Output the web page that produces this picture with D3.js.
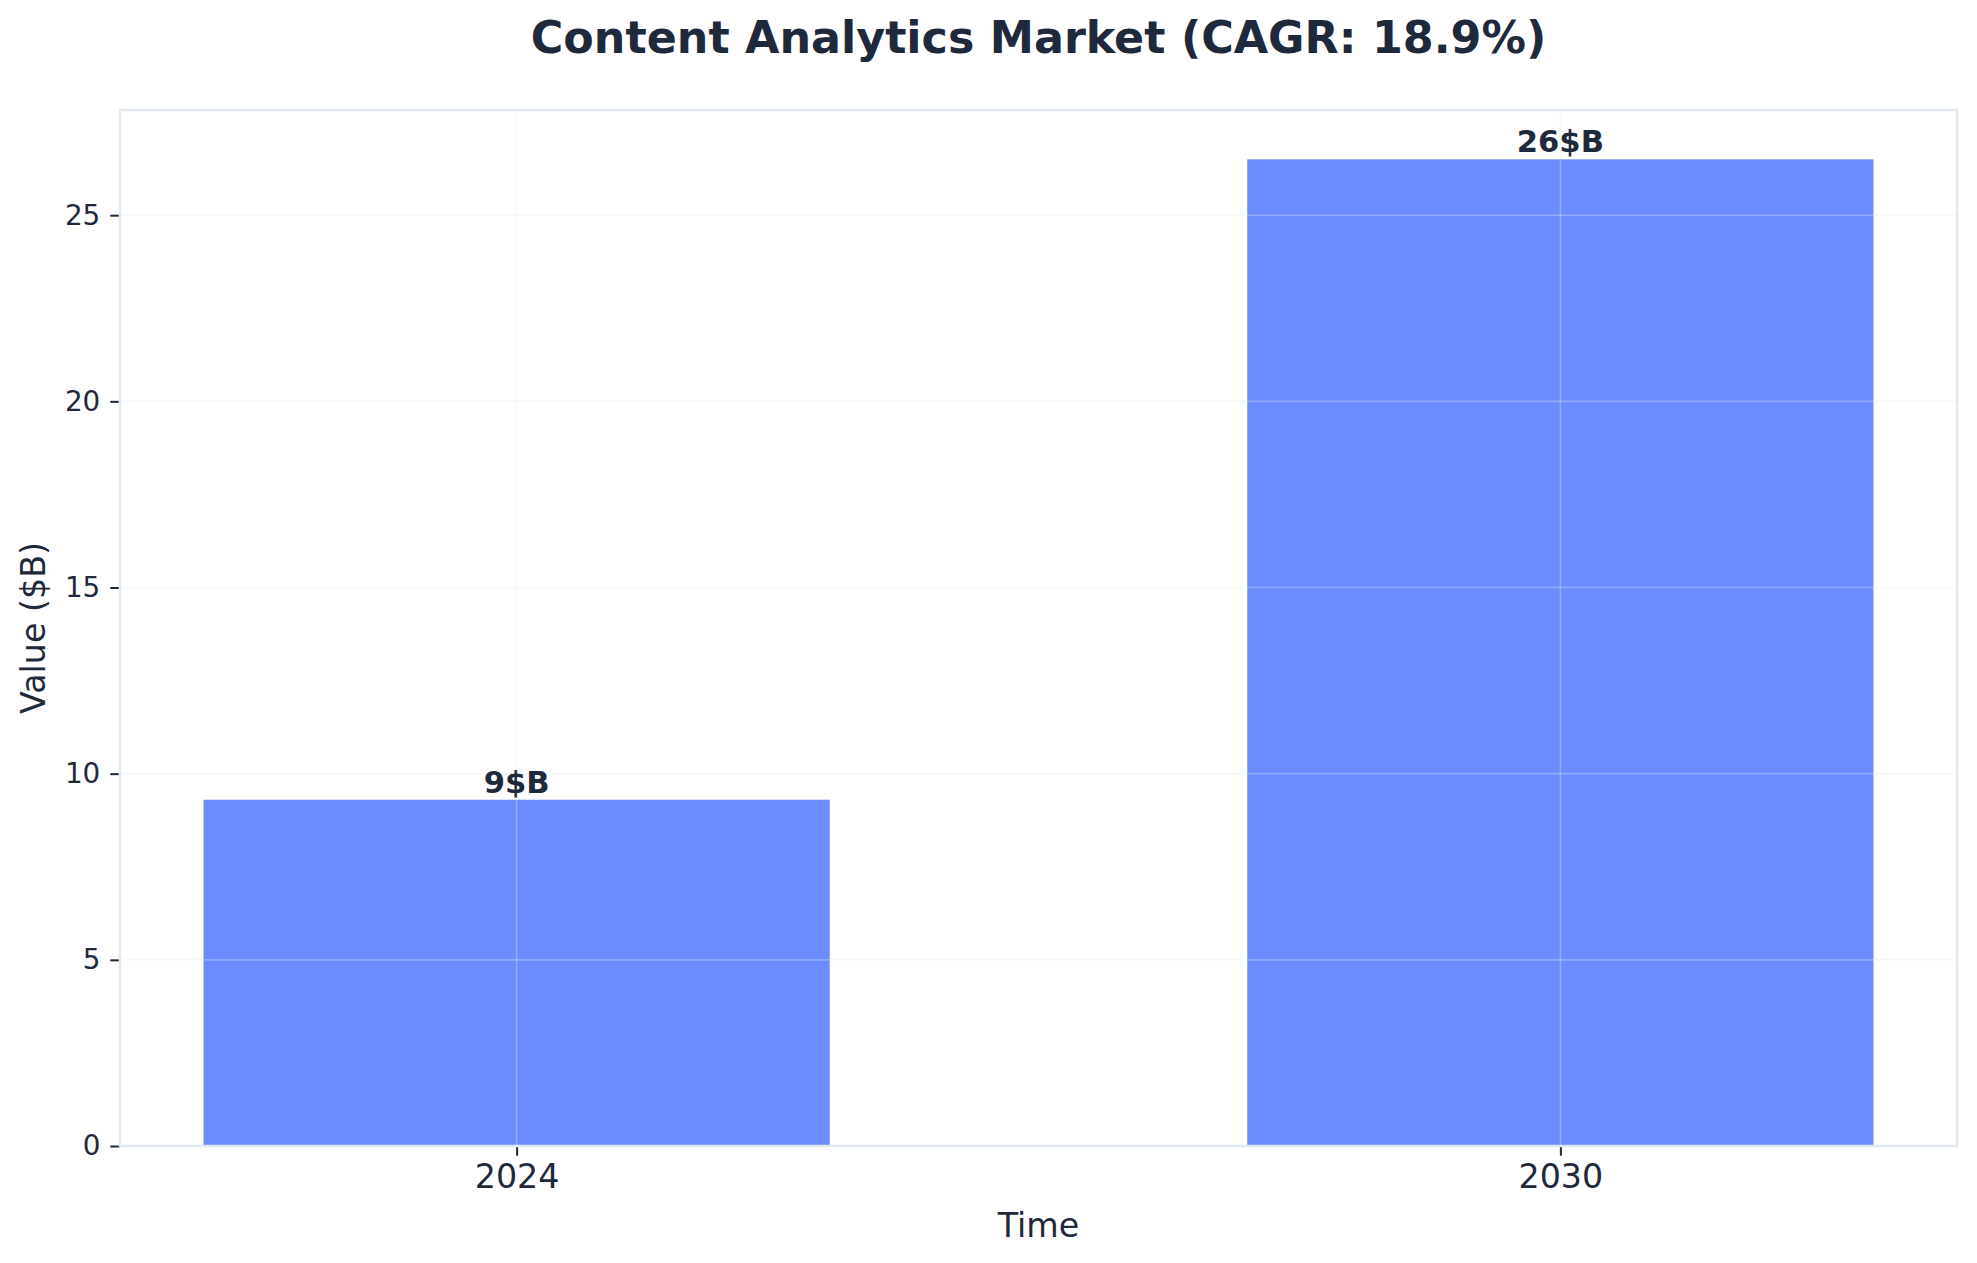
<!DOCTYPE html>
<html>
<head>
<meta charset="utf-8">
<script src="https://cdn.jsdelivr.net/npm/d3@7"></script>
<style>
  html, body { margin: 0; padding: 0; background: #ffffff; }
  svg { display: block; font-family: "DejaVu Sans", sans-serif; }
</style>
</head>
<body>
<svg id="chart" width="1977" height="1263"></svg>
<script>
// ---- data ----
const categories = ["2024", "2030"];
const values = [9.3, 26.5];
const barLabels = ["9$B", "26$B"];
const yTicks = [0, 5, 10, 15, 20, 25];
const titleText = "Content Analytics Market (CAGR: 18.9%)";
const xLabel = "Time";
const yLabel = "Value ($B)";

// ---- layout ----
const W = 1977, H = 1263;
const m = { left: 120, right: 1957, top: 110, bottom: 1146 };
const textColor = "#1e293b";
const spineColor = "#e2e8f0";
const barColor = "#6c8bff";

const svg = d3.select("#chart");

const x = d3.scaleLinear()
  .domain([-0.38, categories.length - 1 + 0.38])
  .range([m.left, m.right]);
const y = d3.scaleLinear()
  .domain([0, d3.max(values) * 1.05])
  .range([m.bottom, m.top]);

const barW = x(0.6) - x(0);

// bars
svg.append("g").selectAll("rect")
  .data(values)
  .join("rect")
  .attr("x", (d, i) => x(i) - barW / 2)
  .attr("width", barW)
  .attr("y", d => y(d))
  .attr("height", d => y(0) - y(d))
  .attr("fill", barColor);

// grid (drawn over bars)
const grid = svg.append("g")
  .attr("stroke", spineColor)
  .attr("stroke-opacity", 0.32)
  .attr("stroke-width", 1.6);
grid.selectAll("line.h")
  .data(yTicks.slice(1))
  .join("line")
  .attr("x1", m.left).attr("x2", m.right)
  .attr("y1", d => y(d)).attr("y2", d => y(d));
grid.selectAll("line.v")
  .data(categories)
  .join("line")
  .attr("x1", (d, i) => x(i)).attr("x2", (d, i) => x(i))
  .attr("y1", m.top).attr("y2", m.bottom);

// bar value labels
svg.append("g").selectAll("text")
  .data(values)
  .join("text")
  .attr("x", (d, i) => x(i))
  .attr("y", d => y(d) - 7)
  .attr("text-anchor", "middle")
  .attr("font-size", 30.6)
  .attr("font-weight", "bold")
  .attr("fill", textColor)
  .text((d, i) => barLabels[i]);

// axes
const yAxis = svg.append("g")
  .attr("transform", `translate(${m.left},0)`)
  .call(d3.axisLeft(y).tickValues(yTicks).tickSize(9.7).tickPadding(10).tickFormat(d3.format("d")));
yAxis.select(".domain").remove();
yAxis.selectAll(".tick line").attr("stroke", textColor).attr("stroke-width", 2);
yAxis.selectAll(".tick text")
  .attr("fill", textColor)
  .attr("font-size", 27.8)
  .attr("font-family", "DejaVu Sans");

const xAxis = svg.append("g")
  .attr("transform", `translate(0,${m.bottom})`)
  .call(d3.axisBottom(x).tickValues(d3.range(categories.length)).tickSize(9.7).tickPadding(9).tickFormat(i => categories[i]));
xAxis.select(".domain").remove();
xAxis.selectAll(".tick line").attr("stroke", textColor).attr("stroke-width", 2);
xAxis.selectAll(".tick text")
  .attr("fill", textColor)
  .attr("font-size", 33.3)
  .attr("font-family", "DejaVu Sans");

// spines
svg.append("rect")
  .attr("x", m.left).attr("y", m.top)
  .attr("width", m.right - m.left).attr("height", m.bottom - m.top)
  .attr("fill", "none")
  .attr("stroke", spineColor)
  .attr("stroke-width", 2.5);

// title
svg.append("text")
  .attr("x", (m.left + m.right) / 2)
  .attr("y", 53)
  .attr("text-anchor", "middle")
  .attr("font-size", 44.4)
  .attr("font-weight", "bold")
  .attr("fill", textColor)
  .text(titleText);

// axis labels
svg.append("text")
  .attr("x", (m.left + m.right) / 2)
  .attr("y", 1237)
  .attr("text-anchor", "middle")
  .attr("font-size", 33.3)
  .attr("fill", textColor)
  .text(xLabel);

svg.append("text")
  .attr("transform", `translate(45,${(m.top + m.bottom) / 2}) rotate(-90)`)
  .attr("text-anchor", "middle")
  .attr("font-size", 33.3)
  .attr("fill", textColor)
  .text(yLabel);
</script>
</body>
</html>
